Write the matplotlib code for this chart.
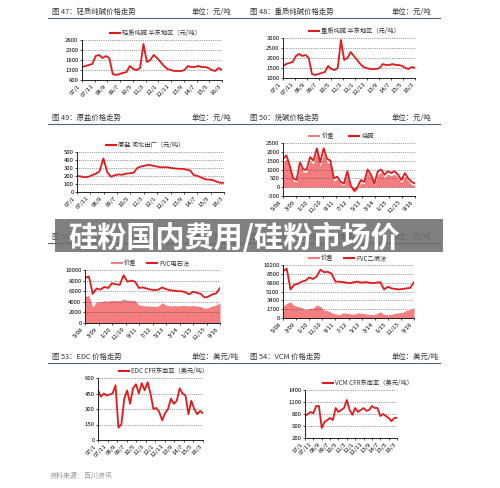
import numpy as np
import matplotlib
matplotlib.use("Agg")
import matplotlib.pyplot as plt
from matplotlib.patches import Rectangle

plt.rcParams['font.family'] = ['Noto Sans CJK SC', 'DejaVu Sans']

RED = "#e31a1c"
FILL = "#f47d7f"

labels_a = ["07/1", "07/11", "08/9", "09/7", "10/5", "11/3", "12/1", "12/11", "13/9", "14/7", "15/5", "16/3"]
labels_b = ["5/08", "3/09", "1/10", "11/10", "9/11", "7/12", "5/13", "3/14", "1/15", "11/15", "9/16"]

light_soda = [1450, 1500, 1550, 1600, 2000, 2050, 1900, 2000, 1900, 1100, 1050, 1100, 1150, 1200, 1500, 1350,
              1300, 1400, 2600, 1700, 1800, 2050, 1900, 1700, 1500, 1350, 1300, 1250, 1250, 1250, 1300, 1500,
              1450, 1450, 1500, 1450, 1450, 1400, 1300, 1250, 1400, 1300]
heavy_soda = [1600, 1700, 1750, 1800, 2100, 2200, 2100, 2150, 2000, 1200, 1150, 1200, 1250, 1300, 1600, 1450,
              1400, 1500, 2900, 1900, 2000, 2300, 2100, 1900, 1700, 1550, 1500, 1450, 1450, 1450, 1500, 1700,
              1650, 1650, 1700, 1650, 1650, 1600, 1500, 1450, 1550, 1500]
salt = [200, 195, 185, 190, 210, 230, 260, 420, 250, 190, 210, 220, 215, 230, 235, 240, 300, 320, 330, 340,
        330, 320, 310, 310, 310, 300, 295, 290, 290, 280, 270, 210, 200, 180, 160, 155, 150, 130, 115, 115]
caustic = [1600, 1800, 1200, 500, 400, 1400, 1000, 1000, 1700, 1500, 2200, 1400, 2200, 1600, 1500, 500, 600,
           300, 200, 900, 100, -200, 0, 400, 300, 1000, 700, 200, 900, 1000, 700, 900, 800, 900, 700, 400,
           800, 500, 300, 200]
caustic_spread = [1400, 1600, 1000, 350, 300, 1200, 850, 850, 1500, 1300, 2000, 1200, 1900, 1400, 1300, 350,
                  450, 200, 100, 700, 0, -300, -100, 250, 200, 850, 550, 100, 700, 850, 550, 750, 650, 750,
                  550, 250, 650, 350, 150, 100]
pvc_carbide = [8500, 8800, 5500, 6500, 6300, 6800, 6600, 7500, 7300, 7200, 9000, 7800, 8000, 7800, 6600, 6700,
               6500, 6300, 6200, 6300, 6700, 6400, 6200, 6100, 6000, 6000, 5800, 5400, 5900, 5700, 5500, 4800,
               5000, 5400, 5600, 6600]
pvc_carbide_spread = [5000, 5200, 3000, 4000, 4000, 4200, 4100, 4300, 4200, 4200, 4500, 4300, 4300, 4200, 3400,
                      3300, 3200, 3200, 3100, 3200, 3800, 3400, 3200, 3300, 3200, 3300, 3300, 3200, 3300, 3200,
                      3100, 2800, 2900, 3200, 3400, 3800]
pvc_ethylene = [9000, 9500, 5500, 6400, 6600, 7000, 7200, 7800, 7500, 8000, 9300, 8800, 8900, 8500, 7000, 7000,
                6900, 6800, 6700, 6900, 7000, 6800, 6900, 6800, 6700, 6800, 6900, 5500, 6000, 5700, 5600, 5500,
                5600, 5700, 5800, 6900]
pvc_ethylene_spread = [2200, 2800, 3100, 2400, 2200, 2000, 1600, 1800, 1900, 2500, 2200, 1500, 1400, 1000, 800,
                       600, 1000, 900, 800, 700, 1000, 900, 800, 700, 600, 800, 1200, 700, 600, 700, 900, 1000,
                       1100, 1500, 1600, 2000]
edc = [480, 420, 450, 430, 440, 450, 530, 120, 150, 400, 480, 350, 500, 540, 450, 550, 480, 560, 450, 300, 310,
       270, 190, 260, 300, 400, 350, 380, 500, 450, 430, 250, 380, 300, 250, 280, 260]
vcm = [750, 800, 850, 820, 1000, 1000, 450, 600, 650, 700, 650, 950, 850, 900, 950, 1150, 900, 780, 950, 850,
       900, 950, 880, 900, 1000, 950, 950, 750, 800, 750, 700, 620, 700, 700]

W, H = 500, 488
fig = plt.figure(figsize=(5, 4.88), dpi=100)
fig.patch.set_facecolor("white")


def px_axes(x0, y0, x1, y1):
    return fig.add_axes([x0 / W, 1 - y1 / H, (x1 - x0) / W, (y1 - y0) / H])


def panel(box, series, ylim, yticks, xlabels, legend, spread=None):
    ax = px_axes(*box)
    x = np.arange(len(series))
    if spread is not None:
        ax.fill_between(x, spread, 0, color=FILL, lw=0)
    ax.plot(x, series, color=RED, lw=1.3)
    ax.set_xlim(0, len(series) - 1)
    ax.set_ylim(*ylim)
    ax.set_yticks(yticks)
    ax.set_yticklabels([str(v) for v in yticks])
    ax.set_xticks(np.linspace(0, len(series) - 1, len(xlabels)))
    ax.set_xticklabels(xlabels, rotation=45, ha="right")
    ax.tick_params(labelsize=4.3, length=1.5, width=0.5, pad=1)
    ax.yaxis.grid(True, ls=":", color="#444", lw=0.5)
    for s in ("top", "right"):
        ax.spines[s].set_visible(False)
    for s in ("left", "bottom"):
        ax.spines[s].set_linewidth(0.6)
    lx = box[0] + (box[2] - box[0]) * 0.2
    ly = 1 - (box[1] - 7) / H
    for name, col, dx in legend:
        fig.add_artist(plt.Line2D([(lx + dx) / W, (lx + dx + 10) / W], [ly, ly], color=col, lw=1.5))
        fig.text((lx + dx + 12) / W, ly, name, color="#333", fontsize=4.5, va="center")
    return ax


def header(x, y, title, unit, ux):
    fig.text(x / W, 1 - y / H, title, fontsize=5.3, color="#333", va="center")
    fig.text(ux / W, 1 - y / H, unit, fontsize=5.3, color="#333", va="center")


for y, titles in [(12, ("图 47：轻质纯碱价格走势", "图 48：重质纯碱价格走势", "单位：元/吨")),
                  (118, ("图 49：原盐价格走势", "图 50：烧碱价格走势", "单位：元/吨")),
                  (237, ("图 51：PVC（电石法）价格走势", "图 52：PVC（乙烯法）价格走势", "单位：元/吨")),
                  (357, ("图 53：EDC 价格走势", "图 54：VCM 价格走势", "单位：美元/吨"))]:
    header(52, y, titles[0], titles[2], 192)
    header(250, y, titles[1], titles[2], 392)
    fig.add_artist(plt.Line2D([48 / W, 440 / W], [1 - (y + 6) / H] * 2, color="#55657a", lw=0.8))

panel((82, 40, 222, 80), light_soda, (800, 2800), [800, 1300, 1800, 2300, 2800], labels_a,
      [("轻质纯碱 华东地区（元/吨）", RED, 0)])
panel((283, 38, 415, 78), heavy_soda, (1000, 3000), [1000, 1500, 2000, 2500, 3000], labels_a,
      [("重质纯碱 华东地区（元/吨）", RED, 0)])
panel((77, 152, 224, 192), salt, (0, 500), [0, 100, 200, 300, 400, 500], labels_a,
      [("原盐 河北出厂（元/吨）", RED, 0)])
panel((283, 143, 415, 196), caustic, (-500, 2500), [-500, 0, 500, 1000, 1500, 2000, 2500], labels_b,
      [("价差", FILL, 0), ("烧碱", RED, 40)], spread=caustic_spread)
panel((85, 270, 220, 323), pvc_carbide, (0, 10000), [0, 2000, 4000, 6000, 8000, 10000], labels_b,
      [("价差", FILL, 0), ("PVC电石法", RED, 35)], spread=pvc_carbide_spread)
panel((283, 265, 414, 318), pvc_ethylene, (0, 10200), [0, 1700, 3400, 5100, 6800, 8500, 10200], labels_b,
      [("价差", FILL, 0), ("PVC乙烯法", RED, 35)], spread=pvc_ethylene_spread)
panel((98, 378, 203, 440), edc, (0, 600), [0, 150, 300, 450, 600], labels_a,
      [("EDC CFR东南亚（美元/吨）", RED, 0)])
panel((305, 390, 397, 438), vcm, (200, 1400), [200, 500, 800, 1100, 1400], labels_a,
      [("VCM CFR东南亚（美元/吨）", RED, 0)])

fig.text(50 / W, 1 - 476 / H, "资料来源：百川资讯", fontsize=5, color="#999", style="italic", va="center")

# banner overlay
fig.add_artist(Rectangle((55 / W, 1 - 252 / H), 388 / W, 33 / H, transform=fig.transFigure,
                         facecolor="#6e6e6e", alpha=0.88, edgecolor="none", zorder=10))
fig.text(68 / W, 1 - 238 / H, "硅粉国内费用/硅粉市场价", fontsize=21, fontweight="bold",
         color="white", va="center", zorder=11)

fig.savefig("out.png", dpi=100)
